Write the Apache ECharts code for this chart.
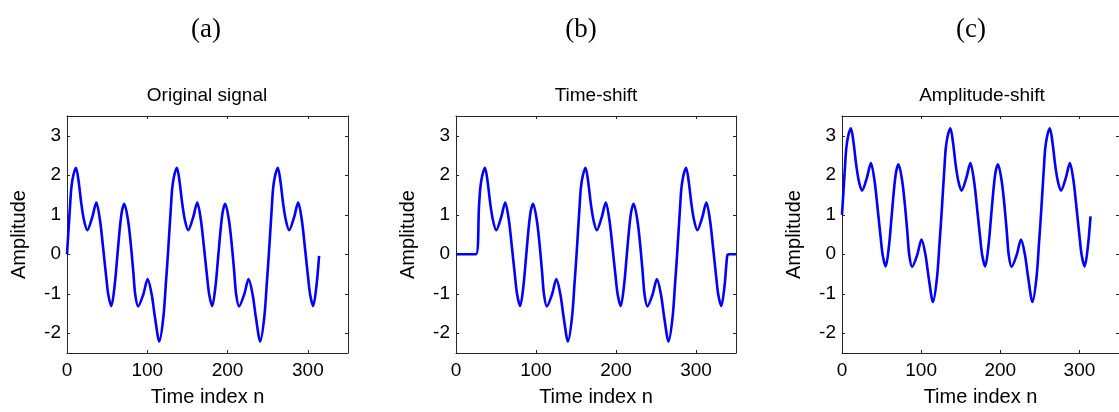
<!DOCTYPE html>
<html><head><meta charset="utf-8">
<script src="https://cdn.jsdelivr.net/npm/echarts@6/dist/echarts.min.js"></script>
<style>html,body{margin:0;padding:0;background:#fff}#c{width:1119px;height:412px}</style>
</head><body><div id="c"></div>
<script>
const panelLetters = ['(a)', '(b)', '(c)'];
const panelTitles = ['Original signal', 'Time-shift', 'Amplitude-shift'];
const xAxisName = 'Time index n';
const yAxisName = 'Amplitude';
const xTicks = [0, 100, 200, 300];
const yTicks = [-2, -1, 0, 1, 2, 3];

// (a) original signal
const nOriginal = [0,3.7,5.4,7.9,11.2,14.5,17.9,21.2,25.3,31.5,36.5,41.1,45.2,48.6,51.4,55.2,59.4,62.7,66,68.5,71.4,76,79.3,82.6,85,88.6,95,100.5,105.5,109.6,115,120,123.3,
  125.7,129.4,131.1,133.6,136.9,140.2,143.6,146.9,151,157.2,162.2,166.8,170.9,174.3,177.1,180.9,185.1,188.4,191.7,194.2,197.1,201.7,205,208.3,210.7,214.3,220.7,226.2,231.2,235.3,240.7,245.7,249,
  251.4,255.1,256.8,259.3,262.6,265.9,269.3,272.6,276.7,282.9,287.9,292.5,296.6,300,302.8,306.6,310.8,314];
const ampOriginal = [0,1.19,1.68,2.0,2.19,1.84,1.27,0.86,0.61,0.94,1.31,0.86,0.12,-0.53,-1.02,-1.31,-0.78,-0.04,0.70,1.1,1.28,0.86,0.29,-0.45,-1.02,-1.32,-1.02,-0.63,-1.02,-1.6,-2.21,-1.6,-0.7,
  0,1.19,1.68,2.0,2.19,1.84,1.27,0.86,0.61,0.94,1.31,0.86,0.12,-0.53,-1.02,-1.31,-0.78,-0.04,0.70,1.1,1.28,0.86,0.29,-0.45,-1.02,-1.32,-1.02,-0.63,-1.02,-1.6,-2.21,-1.6,-0.7,
  0,1.19,1.68,2.0,2.19,1.84,1.27,0.86,0.61,0.94,1.31,0.86,0.12,-0.53,-1.02,-1.31,-0.78,-0.04];

// (b) time-shifted signal
const nShift = [0,25,28.7,30.4,32.9,36.2,39.5,42.9,46.2,50.3,56.5,61.5,66.1,70.2,73.6,76.4,80.2,84.4,87.7,91,93.5,96.4,101,104.3,107.6,110,113.6,120,125.5,130.5,134.6,140,145,148.3,
  150.7,154.4,156.1,158.6,161.9,165.2,168.6,171.9,176,182.2,187.2,191.8,195.9,199.3,202.1,205.9,210.1,213.4,216.7,219.2,222.1,226.7,230,233.3,235.7,239.3,245.7,251.2,256.2,260.3,265.7,270.7,274,
  276.4,280.1,281.8,284.3,287.6,290.9,294.3,297.6,301.7,307.9,312.9,317.5,321.6,325,327.8,331.6,335.8,339,341,350];
const ampShift = [0,0,1.19,1.68,2.0,2.19,1.84,1.27,0.86,0.61,0.94,1.31,0.86,0.12,-0.53,-1.02,-1.31,-0.78,-0.04,0.70,1.1,1.28,0.86,0.29,-0.45,-1.02,-1.32,-1.02,-0.63,-1.02,-1.6,-2.21,-1.6,-0.7,
  0,1.19,1.68,2.0,2.19,1.84,1.27,0.86,0.61,0.94,1.31,0.86,0.12,-0.53,-1.02,-1.31,-0.78,-0.04,0.70,1.1,1.28,0.86,0.29,-0.45,-1.02,-1.32,-1.02,-0.63,-1.02,-1.6,-2.21,-1.6,-0.7,
  0,1.19,1.68,2.0,2.19,1.84,1.27,0.86,0.61,0.94,1.31,0.86,0.12,-0.53,-1.02,-1.31,-0.78,-0.04,0,0];

// (c) amplitude-shifted signal
const nAmp = [0,3.7,5.4,7.9,11.2,14.5,17.9,21.2,25.3,31.5,36.5,41.1,45.2,48.6,51.4,55.2,59.4,62.7,66,68.5,71.4,76,79.3,82.6,85,88.6,95,100.5,105.5,109.6,115,120,123.3,
  125.7,129.4,131.1,133.6,136.9,140.2,143.6,146.9,151,157.2,162.2,166.8,170.9,174.3,177.1,180.9,185.1,188.4,191.7,194.2,197.1,201.7,205,208.3,210.7,214.3,220.7,226.2,231.2,235.3,240.7,245.7,249,
  251.4,255.1,256.8,259.3,262.6,265.9,269.3,272.6,276.7,282.9,287.9,292.5,296.6,300,302.8,306.6,310.8,314];
const ampAmp = [1,2.19,2.68,3.0,3.19,2.84,2.27,1.86,1.61,1.94,2.31,1.86,1.12,0.47,-0.02,-0.31,0.22,0.96,1.70,2.1,2.28,1.86,1.29,0.55,-0.02,-0.32,-0.02,0.37,-0.02,-0.6,-1.21,-0.6,0.3,
  1,2.19,2.68,3.0,3.19,2.84,2.27,1.86,1.61,1.94,2.31,1.86,1.12,0.47,-0.02,-0.31,0.22,0.96,1.70,2.1,2.28,1.86,1.29,0.55,-0.02,-0.32,-0.02,0.37,-0.02,-0.6,-1.21,-0.6,0.3,
  1,2.19,2.68,3.0,3.19,2.84,2.27,1.86,1.61,1.94,2.31,1.86,1.12,0.47,-0.02,-0.31,0.22,0.96];

const seriesX = [nOriginal, nShift, nAmp];
const seriesY = [ampOriginal, ampShift, ampAmp];

const gridBoxes = [
  {left: 67, top: 116, width: 281, height: 243},
  {left: 456, top: 116, width: 280, height: 243},
  {left: 842, top: 116, width: 280, height: 243}
];
const letterCenters = [206, 581, 971];
const FONT = 'Liberation Sans, Arial, sans-serif';
const TXT = '#000';
const LINE = '#262626';

const option = {
  animation: false,
  backgroundColor: '#fff',
  title: [], grid: [], xAxis: [], yAxis: [], series: []
};

gridBoxes.forEach((g, i) => {
  const cx = g.left + 140;
  option.title.push({
    text: panelLetters[i], left: letterCenters[i], top: 16, textAlign: 'center', padding: 0,
    textStyle: {fontFamily: 'Liberation Serif, Times New Roman, serif', fontSize: 27, fontWeight: 'normal', color: TXT}
  });
  option.title.push({
    text: panelTitles[i], left: cx, top: 86, textAlign: 'center', padding: 0,
    textStyle: {fontFamily: FONT, fontSize: 19, fontWeight: 'normal', color: TXT}
  });
  option.grid.push({left: g.left, top: g.top, width: g.width, height: g.height, containLabel: false});
  const xBase = {
    type: 'value', gridIndex: i, min: 0, max: 350,
    axisLine: {show: true, onZero: false, lineStyle: {color: LINE, width: 1}},
    splitLine: {show: false}
  };
  option.xAxis.push(Object.assign({}, xBase, {
    position: 'bottom',
    name: xAxisName, nameLocation: 'middle', nameGap: 34,
    nameTextStyle: {fontFamily: FONT, fontSize: 20, color: TXT},
    axisTick: {inside: true, length: 3, customValues: xTicks, lineStyle: {color: LINE}},
    axisLabel: {customValues: xTicks, margin: 8, fontFamily: FONT, fontSize: 19, color: TXT}
  }));
  option.xAxis.push(Object.assign({}, xBase, {
    position: 'top',
    axisTick: {inside: true, length: 3, customValues: xTicks, lineStyle: {color: LINE}},
    axisLabel: {show: false}
  }));
  const yBase = {
    type: 'value', gridIndex: i, min: -2.5, max: 3.5,
    axisLine: {show: true, onZero: false, lineStyle: {color: LINE, width: 1}},
    splitLine: {show: false}
  };
  option.yAxis.push(Object.assign({}, yBase, {
    position: 'left',
    name: yAxisName, nameLocation: 'middle', nameGap: 38, nameRotate: 90,
    nameTextStyle: {fontFamily: FONT, fontSize: 20, color: TXT},
    axisTick: {inside: true, length: 3, customValues: yTicks, lineStyle: {color: LINE}},
    axisLabel: {customValues: yTicks, margin: 6, fontFamily: FONT, fontSize: 19, color: TXT}
  }));
  option.yAxis.push(Object.assign({}, yBase, {
    position: 'right',
    axisTick: {inside: true, length: 3, customValues: yTicks, lineStyle: {color: LINE}},
    axisLabel: {show: false}
  }));
  option.series.push({
    type: 'line', xAxisIndex: 2 * i, yAxisIndex: 2 * i,
    data: seriesX[i].map((n, k) => [n, seriesY[i][k]]),
    showSymbol: false, smooth: 0.3,
    lineStyle: {color: '#0000ff', width: 2.6},
    clip: false
  });
});

const chart = echarts.init(document.getElementById('c'), null, {renderer: 'canvas'});
chart.setOption(option);
</script>
</body></html>
